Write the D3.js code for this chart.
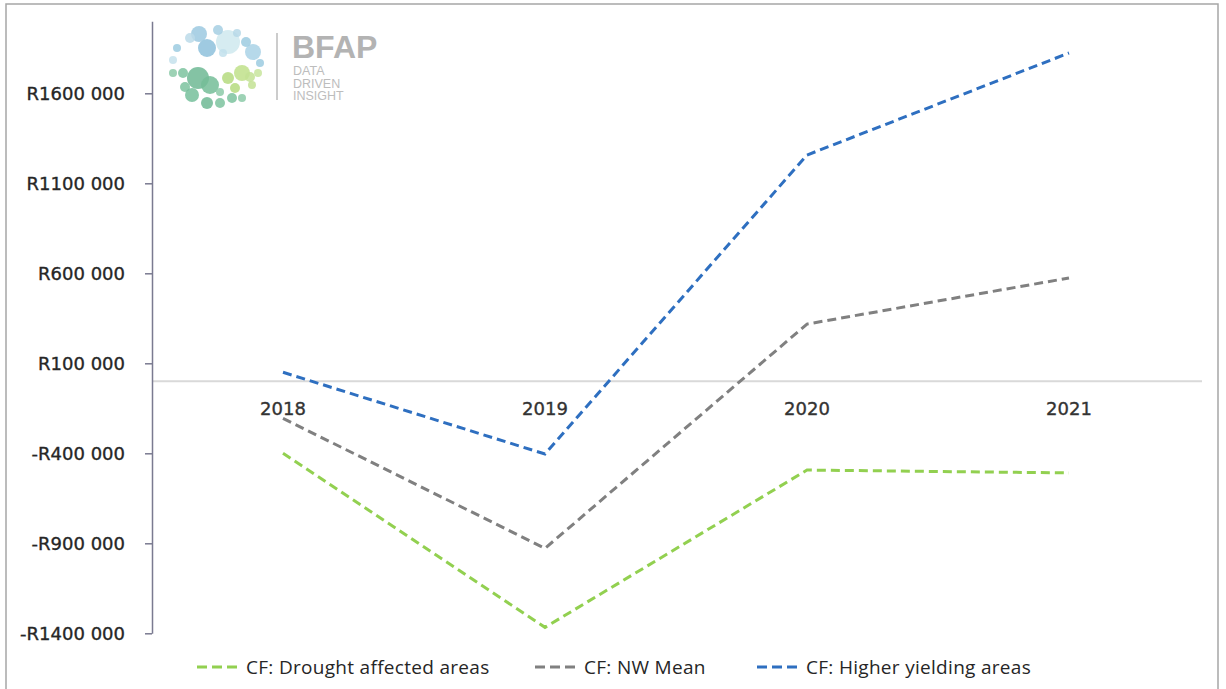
<!DOCTYPE html>
<html>
<head>
<meta charset="utf-8">
<script src="https://cdn.jsdelivr.net/npm/d3@7"></script>
<style>
  body { margin: 0; background: #fff; }
  svg { display: block; }
</style>
</head>
<body>
<script>
// chart values
const years = ["2018", "2019", "2020", "2021"];
const drought = [-400000, -1367000, -493000, -509000];
const nwMean = [-206000, -928000, 318000, 574000];
const higher = [50000, -404000, 1257000, 1824000];
const yTicks = [1600000, 1100000, 600000, 100000, -400000, -900000, -1400000];

const series = [
  { name: "CF: Drought affected areas", values: drought, colour: "#92d050" },
  { name: "CF: NW Mean", values: nwMean, colour: "#808080" },
  { name: "CF: Higher yielding areas", values: higher, colour: "#2e6fc0" }
];

const width = 1226, height = 689;
const labelFont = "DejaVu Sans, sans-serif";

const svg = d3.select("body").append("svg")
    .attr("width", width)
    .attr("height", height);

// outer frame
svg.append("rect")
    .attr("x", 6).attr("y", 4)
    .attr("width", 1212).attr("height", 700)
    .attr("fill", "#fff")
    .attr("stroke", "#a6a6a6")
    .attr("stroke-width", 1.5);

const x = d3.scalePoint()
    .domain(years)
    .range([152, 1200])
    .padding(0.5);

const y = d3.scaleLinear()
    .domain([-1400000, 2000000])
    .range([633.3, 21.3]);

// R-format, e.g. R1600 000 / -R400 000
const fmt = v => {
  const s = d3.format(",")(Math.abs(v)).split(",");
  const head = s.slice(0, -1).join("");
  return (v < 0 ? "-R" : "R") + head + " " + s[s.length - 1];
};

// zero line
svg.append("line")
    .attr("x1", 152).attr("x2", 1202)
    .attr("y1", y(0)).attr("y2", y(0))
    .attr("stroke", "#d9d9d9")
    .attr("stroke-width", 2);

// y axis
const yAxis = svg.append("g")
    .attr("transform", "translate(152,0)")
    .call(d3.axisLeft(y).tickValues(yTicks).tickFormat(fmt).tickSize(7).tickSizeOuter(0));

yAxis.select(".domain")
    .attr("stroke", "#7a7a90")
    .attr("stroke-width", 1.5);
yAxis.selectAll(".tick line")
    .attr("stroke", "#7a7a90")
    .attr("stroke-width", 1.5);
yAxis.selectAll(".tick text")
    .attr("x", -27)
    .style("font", `18px ${labelFont}`)
    .attr("fill", "#262626")
    .attr("stroke", "#262626")
    .attr("stroke-width", 0.35);

// category labels sit just under the zero line
svg.append("g")
  .selectAll("text")
  .data(years)
  .join("text")
    .attr("x", d => x(d))
    .attr("y", y(0) + 34)
    .attr("text-anchor", "middle")
    .style("font", `18px ${labelFont}`)
    .attr("fill", "#333")
    .attr("stroke", "#333")
    .attr("stroke-width", 0.35)
    .text(d => d);

// lines
const line = d3.line()
    .x((d, i) => x(years[i]))
    .y(d => y(d));

svg.append("g")
  .selectAll("path")
  .data(series)
  .join("path")
    .attr("d", d => line(d.values))
    .attr("fill", "none")
    .attr("stroke", d => d.colour)
    .attr("stroke-width", 3)
    .attr("stroke-dasharray", "9,5");

// legend
const legendX = [197, 535, 757];
const lg = svg.append("g")
  .selectAll("g")
  .data(series)
  .join("g")
    .attr("transform", (d, i) => `translate(${legendX[i]}, 667)`);

lg.append("line")
    .attr("x1", 0).attr("x2", 45)
    .attr("stroke", d => d.colour)
    .attr("stroke-width", 3)
    .attr("stroke-dasharray", "10,5");

lg.append("text")
    .attr("x", 49)
    .attr("dominant-baseline", "central")
    .style("font", "19px 'Open Sans', sans-serif")
    .attr("letter-spacing", 0.3)
    .attr("fill", "#262626")
    .text(d => d.name);

// BFAP logo (decoration)
const logo = svg.append("g");
const dots = [
  [228, 42, 12, "#cfe9ef"], [207, 48, 9, "#8ec1dc"], [199, 34, 8, "#9cc9e0"],
  [218, 30, 5, "#a6cfe3"], [253, 52, 8, "#a9d2e6"], [246, 42, 5, "#9ccbe0"],
  [190, 38, 5, "#bcdbe9"], [177, 48, 4, "#9ccbe0"], [173, 60, 4, "#c6e2ec"],
  [260, 63, 4, "#9ccbe0"], [237, 33, 4, "#b6d8e8"], [223, 53, 4, "#c2e0ec"],
  [198, 78, 11, "#6fb894"], [210, 85, 9, "#74bd98"], [183, 73, 5, "#7cc39f"],
  [173, 73, 4, "#8ccaa8"], [185, 87, 5, "#7cc39f"], [192, 95, 7, "#76bf9b"],
  [207, 103, 6, "#6fb894"], [220, 103, 5, "#7cc39f"], [232, 98, 5, "#7cc39f"],
  [242, 98, 4, "#8ccaa8"], [220, 92, 4, "#8ccaa8"],
  [242, 73, 8, "#bfe08a"], [228, 78, 6, "#b5db7f"], [250, 77, 5, "#c3e294"],
  [258, 73, 4, "#c8e59c"], [235, 88, 5, "#b5db7f"], [252, 85, 4, "#c3e294"]
];
logo.selectAll("circle")
  .data(dots)
  .join("circle")
    .attr("cx", d => d[0]).attr("cy", d => d[1]).attr("r", d => d[2])
    .attr("fill", d => d[3])
    .attr("fill-opacity", 0.85);

logo.append("line")
    .attr("x1", 277).attr("x2", 277)
    .attr("y1", 33).attr("y2", 100)
    .attr("stroke", "#cccccc")
    .attr("stroke-width", 2);

logo.append("text")
    .attr("x", 292).attr("y", 58)
    .style("font", "bold 32px 'Liberation Sans', Arial, sans-serif")
    .attr("fill", "#b3b3b3")
    .text("BFAP");

logo.selectAll("text.sub")
  .data(["DATA", "DRIVEN", "INSIGHT"])
  .join("text")
    .attr("class", "sub")
    .attr("x", 293)
    .attr("y", (d, i) => 75 + i * 12.5)
    .style("font", "12.5px 'Liberation Sans', Arial, sans-serif")
    .attr("fill", "#bdbdbd")
    .text(d => d);
</script>
</body>
</html>
